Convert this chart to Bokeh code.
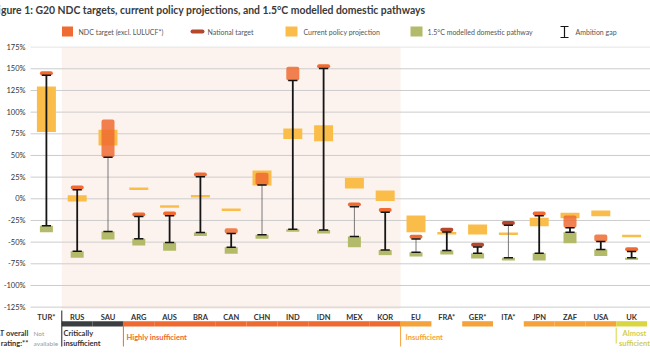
from bokeh.plotting import figure
from bokeh.models import Range1d, FixedTicker, PrintfTickFormatter
from bokeh.core.properties import value
from bokeh.embed import file_html
from bokeh.resources import INLINE

# ---------------- data ----------------
countries = ["TUR*", "RUS", "SAU", "ARG", "AUS", "BRA", "CAN", "CHN", "IND", "IDN",
             "MEX", "KOR", "EU", "FRA*", "GER*", "ITA*", "JPN", "ZAF", "USA", "UK"]
# NDC target (excl. LULUCF), % change; equal high/low = single-value target
ndc_high = [145, 13, 91.5, -18, -17, 28, -34, 30, 152.5, 153, -6.5, -13, -43.8,
            None, None, None, -17, -19.3, -41.2, -58.3]
ndc_low = [145, 13, 48, -18, -17, 28, -40, 16, 136.5, 153, -6.5, -13, -43.8,
           None, None, None, -17, -33.5, -49.3, -58.3]
# National target (EU member states)
national_target = [None, None, None, None, None, None, None, None, None, None,
                   None, None, None, -35.7, -53, -28, None, None, None, None]
# Current policy projection
cpp_high = [129.5, 4, 79.6, 11.5, -9, 3, -12.5, 32.7, 81, 85, 24, 9.6, -19.3,
            -39.7, -29.6, -40.4, -22, -16, -13.5, -42.9]
cpp_low = [77, -3, 61.5, 11.5, -9, 3, -12.5, 15.3, 69, 66.5, 12, -2.5, -38.5,
           -39.7, -41.2, -40.4, -31.6, -22.3, -20, -42.9]
# 1.5C modelled domestic pathway
pw_high = [-31, -60.5, -37.7, -46, -50.4, -39, -56, -41.5, -35, -36, -43.5, -59,
           -61.6, -59.7, -62.7, -68, -62.7, -38.5, -58.5, -68]
pw_low = [-38.5, -68, -47, -54, -60, -43, -63.5, -46, -38, -40, -55.8, -65,
          -66.6, -64.3, -68.9, -71.2, -71.2, -51.2, -66, -70.4]
# CAT overall rating
ratings = ["Not available", "Critically insufficient", "Critically insufficient",
           "Highly insufficient", "Highly insufficient", "Highly insufficient",
           "Highly insufficient", "Highly insufficient", "Highly insufficient",
           "Highly insufficient", "Highly insufficient", "Highly insufficient",
           "Insufficient", None, "Insufficient", None, "Insufficient",
           "Insufficient", "Insufficient", "Almost sufficient"]
y_ticks = [-125, -100, -75, -50, -25, 0, 25, 50, 75, 100, 125, 150, 175]

# ---------------- styles ----------------
C_NDC = "#ef6b31"
C_NAT = "#b5472c"
C_CPP = "#fbbd4a"
C_PW = "#b3bb6b"
C_SHADE = "#fdf3ee"
rating_colors = {"Critically insufficient": "#3b3e41", "Highly insufficient": "#ee6a30",
                 "Insufficient": "#f5a23b", "Almost sufficient": "#d9d63f"}
thin_gap = {"SAU", "CHN", "MEX", "EU", "ITA*"}
FONT = value("Lato")

W, H = 650, 355
X0, DX = 45.9, 30.8          # pixel centre of first category, spacing
Y0, DY = 198.3, 0.8667       # pixel of 0 %, pixels per %


def X(px):
    return (px - X0) / DX


def Y(py):
    return (Y0 - py) / DY


p = figure(width=W, height=H, output_backend="svg", toolbar_location=None,
           x_range=Range1d(X(0), X(W)), y_range=Range1d(Y(H), Y(0)),
           min_border=0, min_border_left=0, min_border_right=0,
           min_border_top=0, min_border_bottom=0)
p.outline_line_color = None
p.background_fill_color = "white"
p.border_fill_color = "white"
p.xgrid.visible = False
p.ygrid.visible = False

# axes drawn inside the frame
p.yaxis.fixed_location = X(29)
p.yaxis.ticker = FixedTicker(ticks=y_ticks)
p.yaxis.formatter = PrintfTickFormatter(format="%d%%")
p.yaxis.axis_line_color = None
p.yaxis.major_tick_line_color = None
p.yaxis.minor_tick_line_color = None
p.yaxis.major_tick_out = 0
p.yaxis.major_tick_in = 0
p.yaxis.minor_tick_out = 0
p.yaxis.major_label_standoff = 4
p.yaxis.major_label_text_font = "Lato"
p.yaxis.major_label_text_font_size = "7.5px"
p.yaxis.major_label_text_color = "#333333"

p.xaxis.fixed_location = Y(311)
p.xaxis.ticker = FixedTicker(ticks=list(range(len(countries))))
p.xaxis.major_label_overrides = {i: c for i, c in enumerate(countries)}
p.xaxis.axis_line_color = None
p.xaxis.major_tick_line_color = None
p.xaxis.minor_tick_line_color = None
p.xaxis.major_tick_out = 0
p.xaxis.major_tick_in = 0
p.xaxis.minor_tick_out = 0
p.xaxis.major_label_standoff = 1
p.xaxis.major_label_text_font = "Lato"
p.xaxis.major_label_text_font_style = "bold"
p.xaxis.major_label_text_font_size = "7.5px"
p.xaxis.major_label_text_color = "#333333"

# shaded block (G20 members in the highly/critically insufficient group)
p.quad(left=[0.5], right=[11.5], top=[175], bottom=[-127.5],
       fill_color=C_SHADE, line_color=None)

# grid lines
grid_cols = ["#e4e4e4" if t == 175 else "#cccccc" for t in y_ticks]
p.segment(x0=[X(30)] * len(y_ticks), x1=[X(W)] * len(y_ticks), y0=y_ticks, y1=y_ticks,
          line_color=grid_cols, line_width=1)

idx = list(range(len(countries)))

# current policy projections
cr_x, cr_y, cr_h, cs_x, cs_y = [], [], [], [], []
for i in idx:
    if cpp_high[i] != cpp_low[i]:
        cr_x.append(i); cr_y.append((cpp_high[i] + cpp_low[i]) / 2); cr_h.append(cpp_high[i] - cpp_low[i])
    else:
        cs_x.append(i); cs_y.append(cpp_high[i])
p.rect(x=cr_x, y=cr_y, width=19, width_units="screen", height=cr_h,
       fill_color=C_CPP, line_color=None)
p.rect(x=cs_x, y=cs_y, width=19, width_units="screen", height=2.5, height_units="screen",
       fill_color=C_CPP, line_color=None)

# NDC targets
nr_x, nr_y, nr_h, ns_x, ns_y = [], [], [], [], []
for i in idx:
    if ndc_high[i] is None:
        continue
    if ndc_high[i] != ndc_low[i]:
        nr_x.append(i); nr_y.append((ndc_high[i] + ndc_low[i]) / 2); nr_h.append(ndc_high[i] - ndc_low[i])
    else:
        ns_x.append(i); ns_y.append(ndc_high[i])
p.rect(x=nr_x, y=nr_y, width=13, width_units="screen", height=nr_h,
       fill_color=C_NDC, fill_alpha=0.85, line_color=None, border_radius=2)
p.rect(x=ns_x, y=ns_y, width=13, width_units="screen", height=4, height_units="screen",
       fill_color=C_NDC, line_color=None, border_radius=2)

# national targets
nt_x = [i for i in idx if national_target[i] is not None]
nt_y = [national_target[i] for i in nt_x]
p.rect(x=nt_x, y=nt_y, width=13, width_units="screen", height=4, height_units="screen",
       fill_color=C_NAT, line_color=None, border_radius=2)

# 1.5C pathways
p.rect(x=idx, y=[(a + b) / 2 for a, b in zip(pw_high, pw_low)], width=13, width_units="screen",
       height=[a - b for a, b in zip(pw_high, pw_low)], fill_color=C_PW, line_color=None)

# ambition gap
gap_top = []
for i in idx:
    if ndc_low[i] is not None:
        t = ndc_low[i] - (2.2 / DY if ndc_high[i] == ndc_low[i] else 0)
    else:
        t = national_target[i] - 2.2 / DY
    gap_top.append(t)
thick = [i for i in idx if countries[i] not in thin_gap]
thin = [i for i in idx if countries[i] in thin_gap]
p.segment(x0=thick, x1=thick, y0=[gap_top[i] for i in thick], y1=[pw_high[i] for i in thick],
          line_color="#151515", line_width=1.8)
p.segment(x0=thin, x1=thin, y0=[gap_top[i] for i in thin], y1=[pw_high[i] for i in thin],
          line_color="#6a6a6a", line_width=0.9)
cap = 0.15
p.segment(x0=[i - cap for i in idx], x1=[i + cap for i in idx], y0=gap_top, y1=gap_top,
          line_color="#151515", line_width=1.5)
p.segment(x0=[i - cap for i in idx], x1=[i + cap for i in idx], y0=pw_high, y1=pw_high,
          line_color="#151515", line_width=1.5)

# rating bar
rb = [i for i in idx if ratings[i] in rating_colors]
p.quad(left=[i - 0.5 for i in rb], right=[i + 0.5 for i in rb], top=[Y(320.7)] * len(rb),
       bottom=[Y(326)] * len(rb), fill_color=[rating_colors[ratings[i]] for i in rb], line_color=None)
p.segment(x0=[0.5, 2.5, 11.5, 18.5], x1=[0.5, 2.5, 11.5, 18.5],
          y0=[Y(310), Y(321), Y(321), Y(327)], y1=[Y(346), Y(346), Y(346), Y(343)],
          line_color=["#222222", "#ee6a30", "#f5a23b", "#d9d63f"], line_width=1)

# rating texts
p.text(x=[X(28)], y=[Y(338)], text=["CAT overall\nrating:**"], text_font=FONT, text_font_size="7.5px",
       text_font_style="bold", text_color="#333333", text_align="right", text_baseline="middle",
       text_line_height=1.15)
p.text(x=[X(33)], y=[Y(338)], text=["Not\navailable"], text_font=FONT, text_font_size="6.5px",
       text_color="#9a9a9a", text_align="left", text_baseline="middle", text_line_height=1.3)
p.text(x=[X(63)], y=[Y(338)], text=["Critically\ninsufficient"], text_font=FONT, text_font_size="7.5px",
       text_font_style="bold", text_color="#333333", text_align="left", text_baseline="middle",
       text_line_height=1.15)
p.text(x=[X(126)], y=[Y(337)], text=["Highly insufficient"], text_font=FONT, text_font_size="7.5px",
       text_font_style="bold", text_color="#ee6a30", text_align="left", text_baseline="middle")
p.text(x=[X(405)], y=[Y(337)], text=["Insufficient"], text_font=FONT, text_font_size="7.5px",
       text_font_style="bold", text_color="#f5a23b", text_align="left", text_baseline="middle")
p.text(x=[X(634)], y=[Y(338)], text=["Almost\nsufficient"], text_font=FONT, text_font_size="7.5px",
       text_font_style="bold", text_color="#d4cd4e", text_align="center", text_baseline="middle",
       text_line_height=1.15)

# title
p.text(x=[X(-8)], y=[Y(9)], text=["Figure 1: G20 NDC targets, current policy projections, and 1.5\u00b0C modelled domestic pathways"],
       text_font=FONT, text_font_size="10.4px", text_font_style="bold", text_color="#3a3a3a",
       text_align="left", text_baseline="middle")

# legend
LY = 31
p.rect(x=[X(67)], y=[Y(LY)], width=11, height=10, width_units="screen", height_units="screen",
       fill_color=C_NDC, line_color=None)
p.rect(x=[X(197)], y=[Y(LY)], width=14, height=4, width_units="screen", height_units="screen",
       fill_color=C_NAT, line_color=None, border_radius=2)
p.rect(x=[X(291)], y=[Y(LY)], width=12, height=10, width_units="screen", height_units="screen",
       fill_color=C_CPP, line_color=None)
p.rect(x=[X(416)], y=[Y(LY)], width=12, height=10, width_units="screen", height_units="screen",
       fill_color=C_PW, line_color=None)
p.segment(x0=[X(564), X(560), X(560)], x1=[X(564), X(568), X(568)],
          y0=[Y(26), Y(26), Y(37)], y1=[Y(37), Y(26), Y(37)], line_color="#151515", line_width=1.2)
p.text(x=[X(78), X(207), X(303), X(427), X(575)], y=[Y(LY)] * 5,
       text=["NDC target (excl. LULUCF*)", "National target", "Current policy projection",
             "1.5\u00b0C modelled domestic pathway", "Ambition gap"],
       text_font=FONT, text_font_size="7px", text_color="#555555", text_align="left",
       text_baseline="middle")

open("out.html", "w").write(file_html(p, INLINE))
